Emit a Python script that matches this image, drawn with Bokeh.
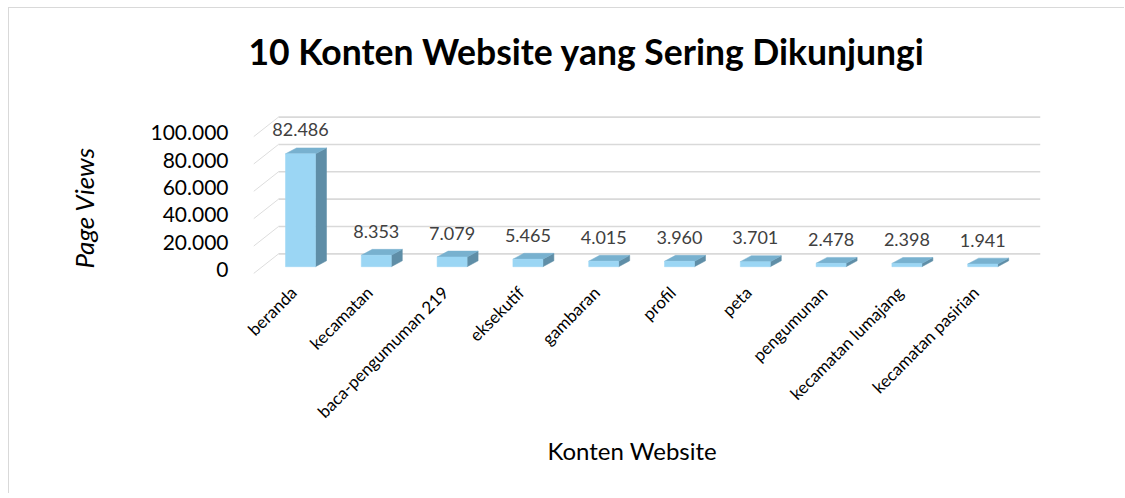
import math
from bokeh.plotting import figure
from bokeh.models import FixedTicker, Range1d, Title
from bokeh.embed import file_html
from bokeh.resources import INLINE
from bokeh.core.properties import value

# ---------------- data ----------------
categories = ["beranda", "kecamatan", "baca-pengumuman 219", "eksekutif", "gambaran",
              "profil", "peta", "pengumunan", "kecamatan lumajang", "kecamatan pasirian"]
page_views = [82486, 8353, 7079, 5465, 4015, 3960, 3701, 2478, 2398, 1941]
y_ticks = [0, 20000, 40000, 60000, 80000, 100000]

TITLE = "10 Konten Website yang Sering Dikunjungi"
X_TITLE = "Konten Website"
Y_TITLE = "Page Views"

def fmt(v):
    return f"{v:,}".replace(",", ".")

FONT = "Lato"

# ---------------- geometry (pixels) ----------------
OX, OY = 9, 8                       # canvas origin on the page
W, H = 1116, 486
FR_L, FR_R, FR_T, FR_B = 253, 1040, 88, 278   # frame edges, page pixels
ZERO_Y = 266                         # page y of value 0 on the bar plane
CAT0_X = 300                         # page x of first bar centre
PX_CAT = 75.8                        # pixels per category
PX_VAL = 139.0 / 100000.0            # pixels per value unit
ux = 1.0 / PX_CAT
uy = 1.0 / PX_VAL

MB_L = FR_L - OX
MB_R = W - (FR_R - OX)
MB_T = FR_T - OY
MB_B = H - (FR_B - OY)

x_start = (FR_L - CAT0_X) * ux
x_end = x_start + (FR_R - FR_L) * ux
y_start = -(FR_B - ZERO_Y) * uy
y_end = y_start + (FR_B - FR_T) * uy

p = figure(width=W, height=H, output_backend="svg", toolbar_location=None,
           x_range=Range1d(x_start, x_end), y_range=Range1d(y_start, y_end),
           min_border_left=MB_L, min_border_right=MB_R,
           min_border_top=MB_T, min_border_bottom=MB_B)
p.styles = {"margin-left": "9px", "margin-top": "8px",
            "box-shadow": "-1px -1px 0 0 #d9d9d9"}
p.outline_line_color = None
p.xgrid.visible = False
p.ygrid.visible = False
p.background_fill_color = "white"
p.border_fill_color = "white"

positions = list(range(len(categories)))

# back wall gridlines + left wall diagonals
FRONT_DY = -7 * uy                   # front floor edge lies below the bar plane
WALL_DX, WALL_DY = 25 * ux, 20 * uy  # depth of the wall
bx0 = x_start + WALL_DX
n = len(y_ticks)
p.segment(x0=[bx0] * n, x1=[x_end] * n,
          y0=[v + FRONT_DY + WALL_DY for v in y_ticks],
          y1=[v + FRONT_DY + WALL_DY for v in y_ticks],
          line_color="#d9d9d9", line_width=1.6)
p.segment(x0=[x_start] * n, x1=[bx0] * n,
          y0=[v + FRONT_DY for v in y_ticks],
          y1=[v + FRONT_DY + WALL_DY for v in y_ticks],
          line_color="#dddddd", line_width=1)

# bars (pseudo 3D)
HW = 15 * ux
BDX, BDY = 11 * ux, 6 * uy
side_xs, side_ys, top_xs, top_ys = [], [], [], []
for xc, v in zip(positions, page_views):
    l, r = xc - HW, xc + HW
    side_xs.append([r, r, r + BDX, r + BDX])
    side_ys.append([0, v, v + BDY, BDY])
    top_xs.append([l, r, r + BDX, l + BDX])
    top_ys.append([v, v, v + BDY, v + BDY])

p.patches(side_xs, side_ys, fill_color="#5f8ea7", line_color="#5f8ea7", line_width=0.5)
p.patches(top_xs, top_ys, fill_color="#78b1cf", line_color="#78b1cf", line_width=0.5)
p.quad(left=[x - HW for x in positions], right=[x + HW for x in positions],
       bottom=[0] * len(page_views), top=page_views,
       fill_color="#9bd6f4", line_color="#9bd6f4", line_width=0.5)

# data labels
p.text(x=positions, y=page_views, text=[fmt(v) for v in page_views],
       y_offset=-24, text_align="center", text_baseline="middle",
       text_font=value(FONT), text_font_size="18px", text_color="#404040")

# y axis
ytick_pos = [v - 3 * uy for v in y_ticks]
p.yaxis.ticker = FixedTicker(ticks=ytick_pos)
p.yaxis.major_label_overrides = {t: fmt(v) for t, v in zip(ytick_pos, y_ticks)}
p.yaxis.major_label_text_font = FONT
p.yaxis.major_label_text_font_size = "21px"
p.yaxis.major_label_text_color = "#000000"
p.yaxis.major_label_standoff = 19
p.yaxis.axis_line_color = None
p.yaxis.major_tick_line_color = None
p.yaxis.minor_tick_line_color = None

# x axis
xtick_pos = [i - 7 * ux for i in positions]
p.xaxis.ticker = FixedTicker(ticks=xtick_pos)
p.xaxis.major_label_overrides = {t: c for t, c in zip(xtick_pos, categories)}
p.xaxis.major_label_orientation = math.pi / 4
p.xaxis.major_label_text_font = FONT
p.xaxis.major_label_text_font_size = "17px"
p.xaxis.major_label_text_color = "#000000"
p.xaxis.major_label_standoff = 5
p.xaxis.axis_line_color = None
p.xaxis.major_tick_line_color = None
p.xaxis.minor_tick_line_color = None

# titles
p.title.text = TITLE
p.title.text_font = FONT
p.title.text_font_style = "bold"
p.title.text_font_size = "35.5px"
p.title.text_color = "#000000"
p.title.align = "left"
p.title.offset = -5
p.title.standoff = 38

p.add_layout(Title(text=X_TITLE, align="left", offset=294, standoff=6,
                   vertical_align="top", text_font=FONT, text_font_style="normal",
                   text_font_size="24px", text_color="#000000"), "below")
p.add_layout(Title(text=Y_TITLE, align="left", offset=10, standoff=96,
                   vertical_align="bottom", text_font=FONT, text_font_style="italic",
                   text_font_size="26px", text_color="#000000"), "left")

open("out.html", "w").write(file_html(p, INLINE))
